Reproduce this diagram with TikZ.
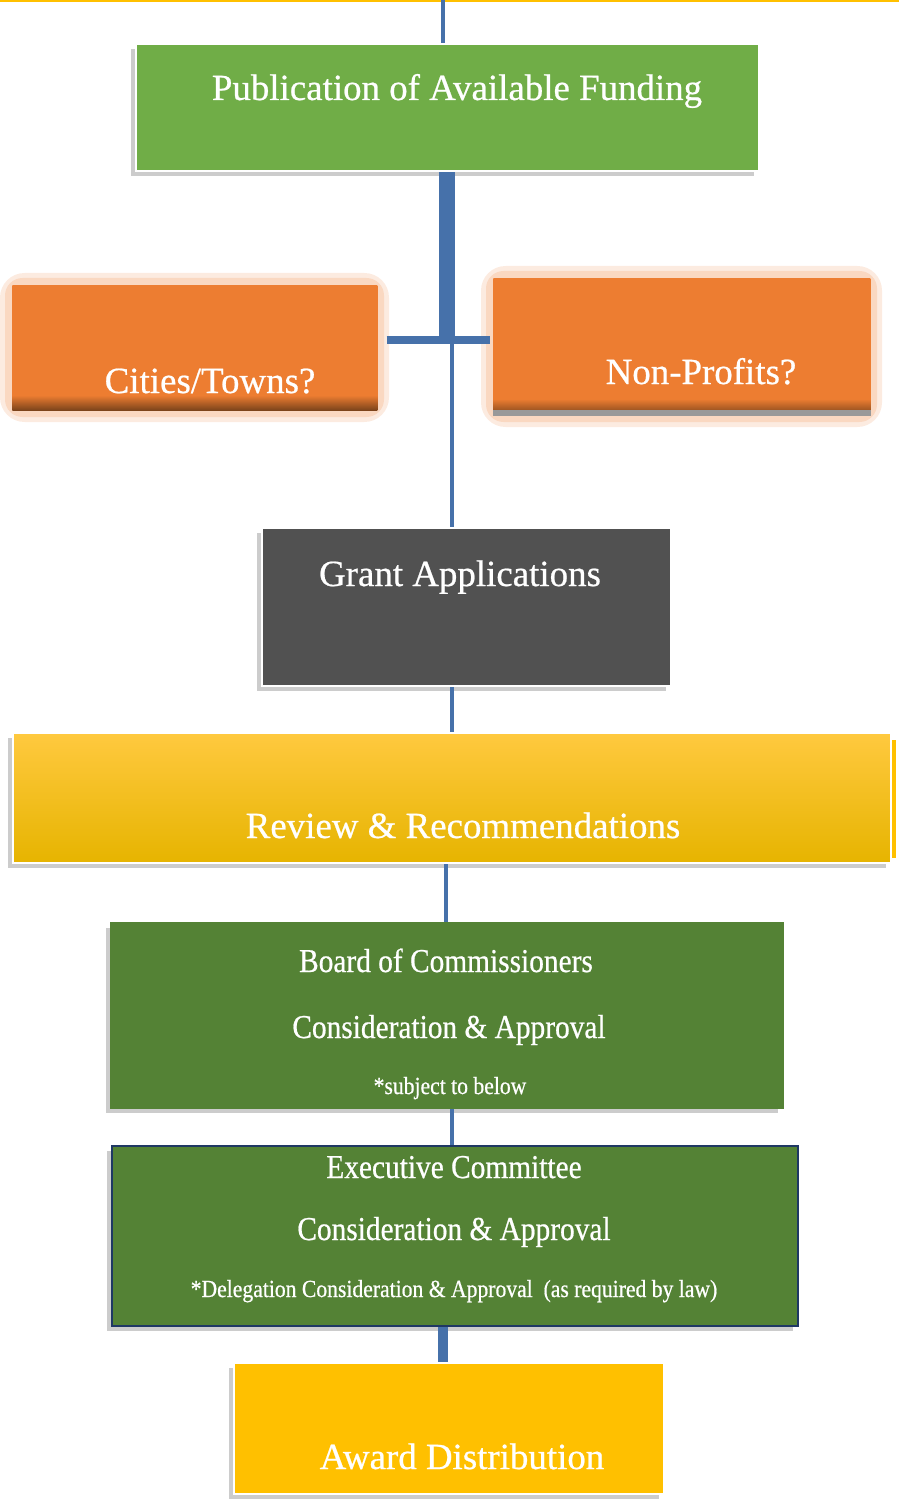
\documentclass[tikz,border=0pt]{standalone}
\usepackage{fontspec}
\setmainfont[FakeBold=0.6]{Liberation Serif}
\newfontfamily\narrowserif[FakeStretch=0.88, FakeBold=0.6]{Liberation Serif}
\usepackage{xcolor}
\usepackage{tikz}
\usetikzlibrary{shadows,calc}
\definecolor{FlowBlue}{HTML}{4671AA}
\definecolor{PubGreen}{HTML}{70AD47}
\definecolor{BoardGreen}{HTML}{548235}
\definecolor{BoxOrange}{HTML}{ED7D31}
\definecolor{BarBrown}{HTML}{7A431B}
\definecolor{GrantGray}{HTML}{515151}
\definecolor{BoxGold}{HTML}{FFC000}
\definecolor{ReviewTop}{HTML}{FFC93F}
\definecolor{ReviewBottom}{HTML}{E6B400}
\definecolor{ExecNavy}{HTML}{1F3864}
\pgfdeclareverticalshading{orangebar}{100bp}{color(0bp)=(BarBrown); color(25bp)=(BarBrown); color(31bp)=(BoxOrange); color(100bp)=(BoxOrange)}

\begin{document}
\begin{tikzpicture}[x=0.02cm, y=-0.02cm,
                    box/.style={draw=white, line width=1.2pt, inner sep=0pt, anchor=north west,
                                drop shadow={shadow xshift=-3pt, shadow yshift=-3pt, opacity=.4}},
                    orangebox/.style={inner sep=0pt, anchor=north west, shading=orangebar},
                    glowout/.style={fill=BoxOrange!15, rounded corners=14pt},
                    glowin/.style={fill=BoxOrange!30, rounded corners=10pt},
                    title/.style={text=white, font=\fontsize{21}{24}\selectfont, inner sep=0pt, anchor=base},
                    sub/.style={text=white, font=\narrowserif\fontsize{19}{22}\selectfont, inner sep=0pt, anchor=base},
                    note/.style={text=white, font=\narrowserif\fontsize{14}{16}\selectfont, inner sep=0pt, anchor=base},
                    link/.style={draw=FlowBlue, line width=2.8pt}]
\useasboundingbox (0,0) rectangle (899,1500);
\draw[BoxGold, line width=1.5pt] (0,0.7) -- (899,0.7);

% boxes
\node[box, fill=PubGreen, minimum width=12.46cm, minimum height=2.54cm] (pub) at (135,43) {};
\node[title] (pubtext) at (457,100) {Publication of Available Funding};

\fill[glowout] (0,273) rectangle (389,422);
\fill[glowin] (5,278) rectangle (384,417);
\node[orangebox, minimum width=7.3cm, minimum height=2.5cm] (cities) at (12,285) {};
\node[title] (citiestext) at (210,393) {Cities/Towns?};

\fill[glowout] (481,266) rectangle (882,427);
\fill[glowin] (486,271) rectangle (877,422);
\node[orangebox, minimum width=7.54cm, minimum height=2.74cm] (nonprof) at (493,278) {};
\fill[gray!80] ($(nonprof.south west)+(0,-6)$) rectangle (nonprof.south east);
\node[title] (nonproftext) at (701,384) {Non-Profits?};

\node[box, fill=GrantGray, minimum width=8.18cm, minimum height=3.16cm] (grant) at (261,527) {};
\node[title] (granttext) at (460,586) {Grant Applications};

\fill[BoxGold] (891,740) rectangle (896,858);
\node[box, top color=ReviewTop, middle color=BoxGold, bottom color=ReviewBottom,
      minimum width=17.56cm, minimum height=2.6cm] (review) at (12,732) {};
\node[title] (reviewtext) at (463,838) {Review \& Recommendations};

\node[box, draw=BoardGreen, fill=BoardGreen, minimum width=13.44cm, minimum height=3.7cm] (board) at (110,922) {};
\node[sub] (boardtop) at (446,972) {Board of Commissioners};
\node[sub] (boardmid) at (449,1038) {Consideration \& Approval};
\node[note] (boardnote) at (450,1094) {*subject to below};

\node[box, draw=ExecNavy, fill=BoardGreen, minimum width=13.72cm, minimum height=3.6cm] (exec) at (111,1145) {};
\node[sub] (exectop) at (454,1178) {Executive Committee};
\node[sub] (execmid) at (454,1240) {Consideration \& Approval};
\node[note] (execnote) at (454,1297) {*Delegation Consideration \& Approval\ \ (as required by law)};

\node[box, fill=BoxGold, minimum width=8.6cm, minimum height=2.62cm] (award) at (233,1362) {};
\node[title] (awardtext) at (462,1469) {Award Distribution};

% connectors
\coordinate (top) at (443,0);
\coordinate (tee) at (447,340);
\coordinate (split) at (452,340);
\draw[link] (top) -- (top |- pub.north);
\draw[link, line width=9.5pt] (pub.south -| tee) -- (tee);
\draw[link, line width=4.5pt, shorten <=0.18cm, shorten >=0.06cm] (tee -| cities.east) -- (tee -| nonprof.west);
\draw[link] (split) -- (split |- grant.north);
\draw[link] (grant.south -| split) -- (review.north -| split);
\draw[link] (review.south -| 446,0) -- (board.north -| 446,0);
\draw[link] (board.south -| split) -- (exec.north -| split);
\draw[link, line width=5.5pt] (exec.south -| top) -- (award.north -| top);
\end{tikzpicture}
\end{document}
